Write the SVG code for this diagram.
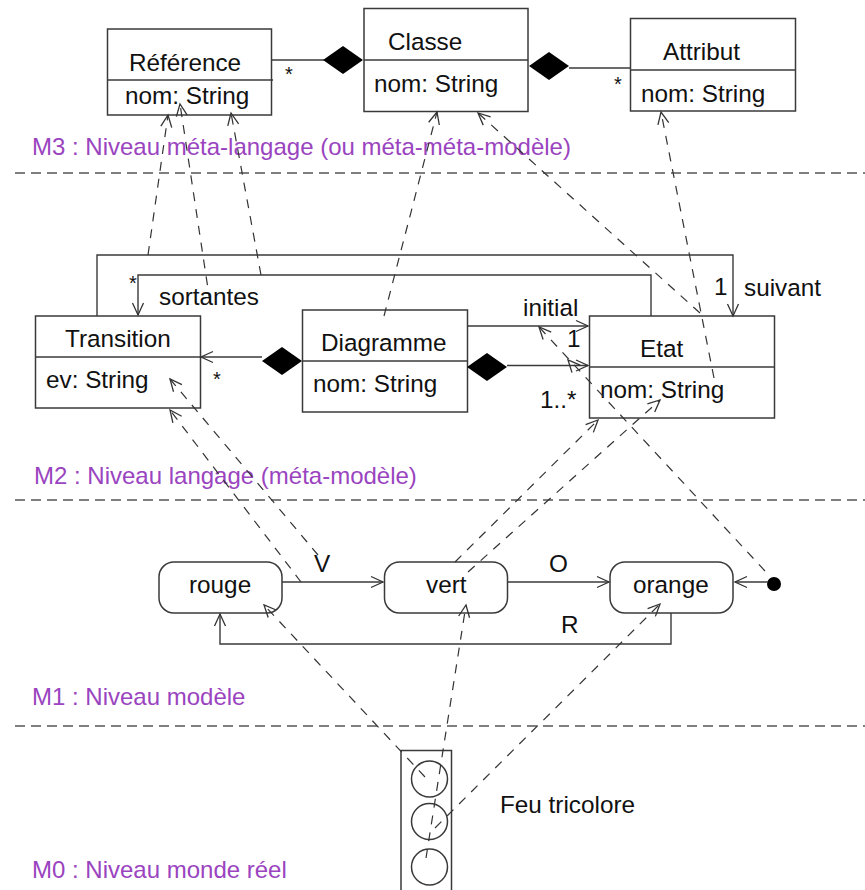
<svg xmlns="http://www.w3.org/2000/svg" width="865" height="890" viewBox="0 0 865 890">
<style>
text{font-family:"Liberation Sans",Arial,sans-serif;font-size:24.300px;fill:#111}
text.lv{fill:#9a44bf;font-size:24px}
text.st{font-size:20px}
.b{fill:none;stroke:#3a3a3a;stroke-width:1.5}
.c{fill:none;stroke:#3a3a3a;stroke-width:1.4}
.a{marker-end:url(#open)}
.d{fill:none;stroke:#333;stroke-width:1.2;stroke-dasharray:9 8}
.s{fill:none;stroke:#555;stroke-width:1.4;stroke-dasharray:10 6}
.dm{fill:#000}
</style>
<defs>
<marker id="open" markerUnits="userSpaceOnUse" markerWidth="20" markerHeight="20" refX="15" refY="10" orient="auto" overflow="visible">
<path d="M3 4.500L15 10L3 15.500" fill="none" stroke="#333" stroke-width="1.3"/>
</marker>
</defs>
<rect width="865" height="890" fill="#fff"/>
<g id="separators">
<path class="s" d="M15 173H865"/>
<path class="s" d="M15 500H865"/>
<path class="s" d="M15 726H865"/>
</g>
<g id="levels">
<text class="lv" x="32" y="155">M3 : Niveau méta-langage (ou méta-méta-modèle)</text>
<text class="lv" x="34" y="484">M2 : Niveau langage (méta-modèle)</text>
<text class="lv" x="32" y="705">M1 : Niveau modèle</text>
<text class="lv" x="32" y="878">M0 : Niveau monde réel</text>
</g>
<g id="reference">
<rect class="b" x="107.500" y="29" width="164" height="86"/><path class="b" d="M108 80H273"/>
<text x="129" y="71">Référence</text><text x="125" y="104">nom: String</text>
</g>
<g id="classe">
<rect class="b" x="364" y="8.500" width="164" height="103"/><path class="b" d="M364 60H528"/>
<text x="388" y="50">Classe</text><text x="374" y="92">nom: String</text>
</g>
<g id="attribut">
<rect class="b" x="630.500" y="18.500" width="165" height="92.500"/><path class="b" d="M631 70H795"/>
<text x="663" y="60">Attribut</text><text x="641" y="102">nom: String</text>
</g>
<g id="transition">
<rect class="b" x="35.500" y="316" width="165" height="92"/><path class="b" d="M36 357H200"/>
<text x="65" y="347">Transition</text><text x="46" y="388">ev: String</text>
</g>
<g id="diagramme">
<rect class="b" x="302.500" y="310" width="165" height="102"/><path class="b" d="M303 361H467"/>
<text x="321" y="351">Diagramme</text><text x="313" y="392">nom: String</text>
</g>
<g id="etat">
<rect class="b" x="589.500" y="316" width="185" height="102"/><path class="b" d="M590 367H774"/>
<text x="640" y="357">Etat</text><text x="600" y="398">nom: String</text>
</g>
<g id="rouge">
<rect class="b" x="159" y="562" width="123" height="51" rx="15"/><text x="189" y="593">rouge</text>
</g>
<g id="vert">
<rect class="b" x="384.500" y="562" width="123" height="51" rx="15"/><text x="426" y="593">vert</text>
</g>
<g id="orange">
<rect class="b" x="610" y="562" width="123" height="51" rx="15"/><text x="633" y="593">orange</text>
</g>
<g id="initial-state"><circle cx="774" cy="584" r="7" fill="#000"/></g>
<g id="feu">
<path class="b" d="M401 890V750.500H451.500V890"/>
<circle class="b" cx="429.500" cy="779" r="18"/>
<circle class="b" cx="429.500" cy="821.500" r="18"/>
<circle class="b" cx="429.500" cy="867" r="18"/>
<text x="500" y="813">Feu tricolore</text>
</g>
<g id="connectors">
<path class="c" d="M272 60H324"/>
<path class="dm" d="M323 60L343 46L363 60L343 74Z"/>
<path class="c" d="M569 68H630"/>
<path class="dm" d="M529 66L549 52L569 66L549 80Z"/>
<path class="c a" d="M97 316V255H733V316"/>
<path class="c a" d="M651 316V275H138V315"/>
<path class="c a" d="M262 357H201"/>
<path class="dm" d="M262 361L282 347L302 361L282 375Z"/>
<path class="c a" d="M467 326H588"/>
<path class="c a" d="M507 365.500H588"/>
<path class="dm" d="M467 367L487 353L507 367L487 381Z"/>
<path class="c a" d="M282 582H383"/>
<path class="c a" d="M507 582H609"/>
<path class="c a" d="M768 582H735"/>
<path class="c a" d="M671 613V644H220V614"/>
<path class="d a" d="M148 255L168 115"/>
<path class="d a" d="M210 302L180 104"/>
<path class="d a" d="M261 275L231 113"/>
<path class="d a" d="M384 316L437 112"/>
<path class="d a" d="M700 313L478 113"/>
<path class="d a" d="M714 378L661 112"/>
<path class="d a" d="M765 571L539 327"/>
<path class="c a" style="stroke:none" d="M578 371L568 360"/>
<path class="d a" d="M318 555L170 379"/>
<path class="d a" d="M301 582L170 410"/>
<path class="d a" d="M455 562L598 420"/>
<path class="d a" d="M468 572L660 400"/>
<path class="d a" d="M425 777L264 605"/>
<path class="d a" d="M426 858L466 605"/>
<path class="d a" d="M435 828L660 604"/>
</g>
<g id="labels">
<text class="st" x="285" y="81">*</text>
<text class="st" x="614" y="91">*</text>
<text class="st" x="129" y="290">*</text>
<text class="st" x="213" y="386">*</text>
<text x="159" y="305">sortantes</text>
<text x="523" y="316">initial</text>
<text x="567" y="347">1</text>
<text x="540" y="408">1..*</text>
<text x="714" y="295">1</text>
<text x="744" y="296">suivant</text>
<text x="314" y="572">V</text>
<text x="549" y="572">O</text>
<text x="561" y="633">R</text>
</g>
</svg>
